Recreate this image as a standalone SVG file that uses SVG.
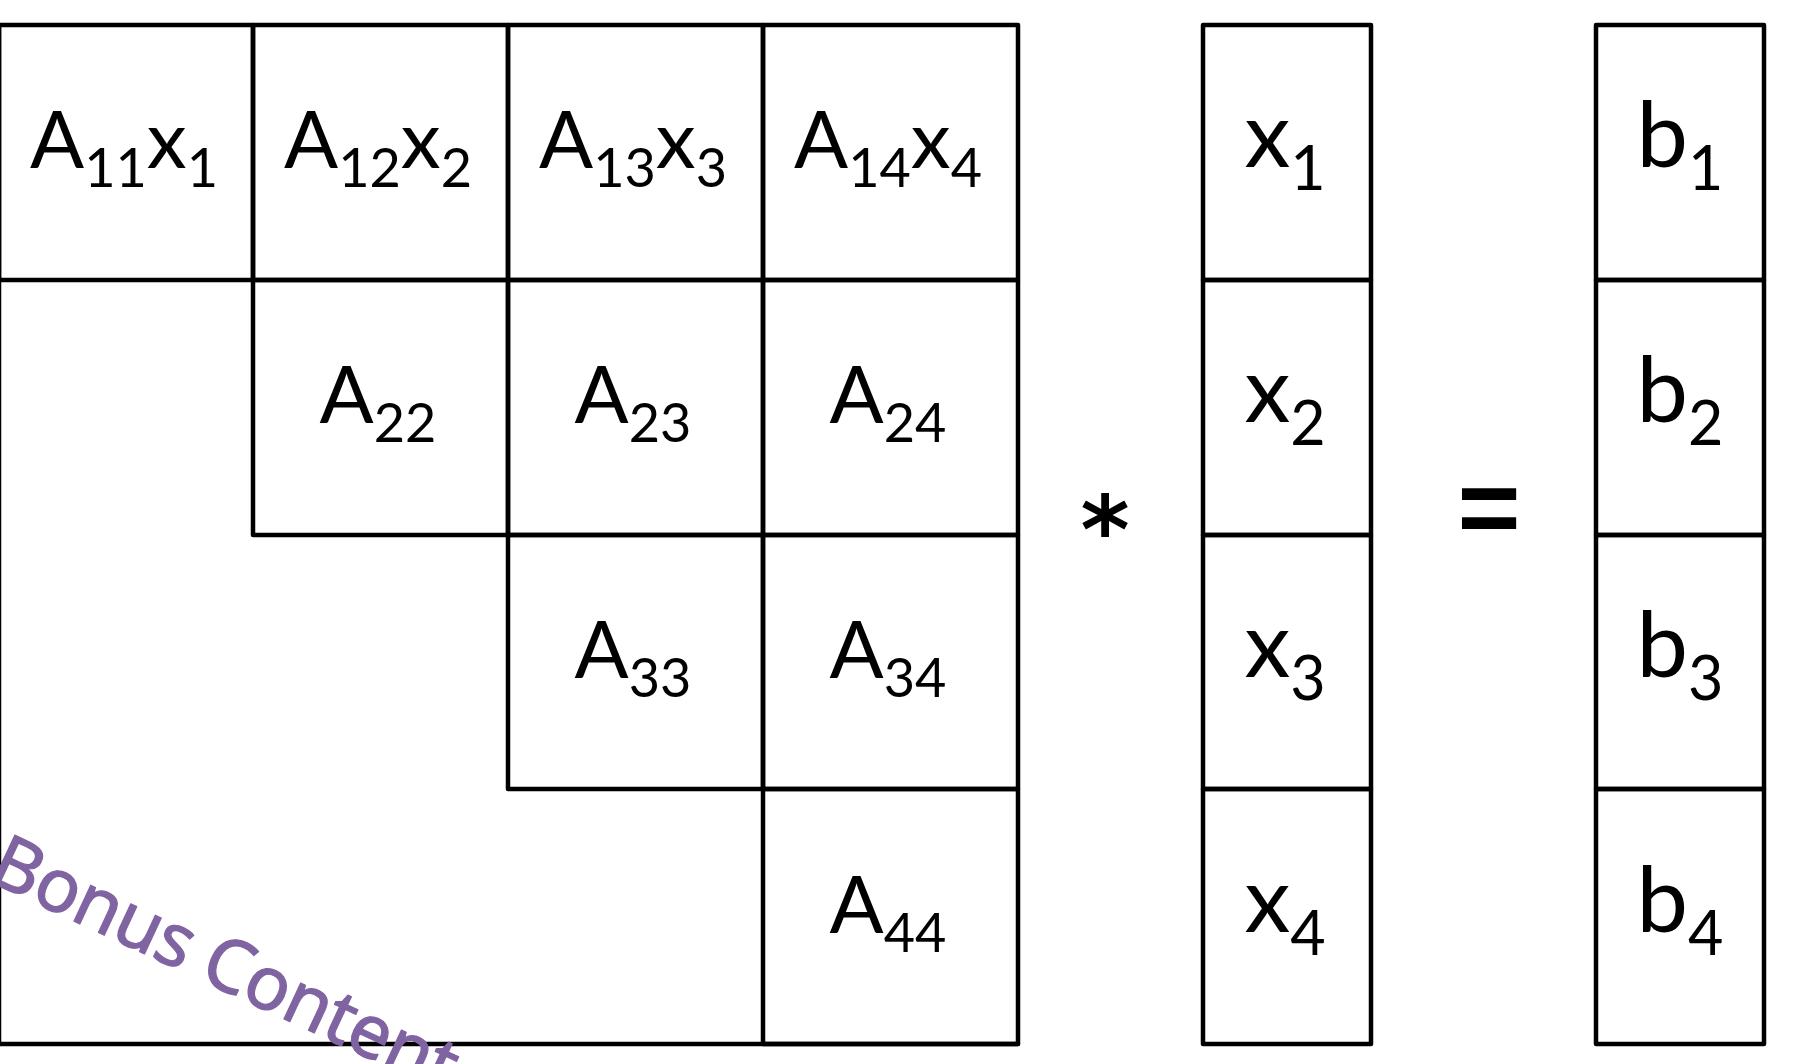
<svg xmlns="http://www.w3.org/2000/svg" width="1820" height="1064" viewBox="0 0 1820 1064">
<style>
  .cell { fill: none; stroke: #000; stroke-width: 4.5; stroke-linejoin: round; }
  .frame { fill: none; stroke: #000; stroke-width: 4.5; stroke-linejoin: round; stroke-linecap: round; }
  .lbl { font-family: Lato, "Open Sans", sans-serif; font-size: 80px; fill: #000; text-anchor: middle; }
  .lbl .sub { font-size: 54px; }
  .vec { font-family: Lato, "Open Sans", sans-serif; font-size: 92px; fill: #000; text-anchor: middle; }
  .vec .sub { font-size: 61px; }
  .op { font-family: "DejaVu Sans", sans-serif; font-weight: bold; fill: #000; text-anchor: middle; }
  .bonus { font-family: "Noto Sans", "DejaVu Sans", sans-serif; font-size: 74px; fill: #8064A2; stroke: #8064A2; stroke-width: 1.2; stroke-linejoin: round; }
</style>
<rect width="1820" height="1064" fill="#fff"/>

<g id="matrix-frame">
  <path class="frame" d="M-1,25 V1044 H1018"/>
</g>

<g id="A11"><rect class="cell" x="-1" y="25" width="254" height="255"/>
  <text class="lbl" x="124" y="168">A<tspan class="sub" dy="19">11</tspan><tspan dy="-19">x</tspan><tspan class="sub" dy="19">1</tspan></text></g>
<g id="A12"><rect class="cell" x="253" y="25" width="255" height="255"/>
  <text class="lbl" x="378" y="168">A<tspan class="sub" dy="19">12</tspan><tspan dy="-19">x</tspan><tspan class="sub" dy="19">2</tspan></text></g>
<g id="A13"><rect class="cell" x="508" y="25" width="255" height="255"/>
  <text class="lbl" x="633" y="168">A<tspan class="sub" dy="19">13</tspan><tspan dy="-19">x</tspan><tspan class="sub" dy="19">3</tspan></text></g>
<g id="A14"><rect class="cell" x="763" y="25" width="255" height="255"/>
  <text class="lbl" x="888" y="168">A<tspan class="sub" dy="19">14</tspan><tspan dy="-19">x</tspan><tspan class="sub" dy="19">4</tspan></text></g>

<g id="A22"><rect class="cell" x="253" y="280" width="255" height="255"/>
  <text class="lbl" x="378" y="423">A<tspan class="sub" dy="19">22</tspan></text></g>
<g id="A23"><rect class="cell" x="508" y="280" width="255" height="255"/>
  <text class="lbl" x="633" y="423">A<tspan class="sub" dy="19">23</tspan></text></g>
<g id="A24"><rect class="cell" x="763" y="280" width="255" height="255"/>
  <text class="lbl" x="888" y="423">A<tspan class="sub" dy="19">24</tspan></text></g>

<g id="A33"><rect class="cell" x="508" y="535" width="255" height="254"/>
  <text class="lbl" x="633" y="678">A<tspan class="sub" dy="19">33</tspan></text></g>
<g id="A34"><rect class="cell" x="763" y="535" width="255" height="254"/>
  <text class="lbl" x="888" y="678">A<tspan class="sub" dy="19">34</tspan></text></g>

<g id="A44"><rect class="cell" x="763" y="789" width="255" height="255"/>
  <text class="lbl" x="888" y="933">A<tspan class="sub" dy="19">44</tspan></text></g>

<g id="op-multiply"><text class="op" x="1105" y="563" font-size="94">*</text></g>

<g id="x1"><rect class="cell" x="1203" y="25" width="168" height="255"/>
  <text class="vec" x="1285" y="167">x<tspan class="sub" dy="23">1</tspan></text></g>
<g id="x2"><rect class="cell" x="1203" y="280" width="168" height="255"/>
  <text class="vec" x="1285" y="422">x<tspan class="sub" dy="23">2</tspan></text></g>
<g id="x3"><rect class="cell" x="1203" y="535" width="168" height="254"/>
  <text class="vec" x="1285" y="677">x<tspan class="sub" dy="23">3</tspan></text></g>
<g id="x4"><rect class="cell" x="1203" y="789" width="168" height="255"/>
  <text class="vec" x="1285" y="932">x<tspan class="sub" dy="23">4</tspan></text></g>

<g id="op-equals"><text class="op" x="1489" y="544" font-size="108" style="font-family:'Liberation Sans',sans-serif">=</text></g>

<g id="b1"><rect class="cell" x="1596" y="25" width="168" height="255"/>
  <text class="vec" x="1680" y="167">b<tspan class="sub" dy="23">1</tspan></text></g>
<g id="b2"><rect class="cell" x="1596" y="280" width="168" height="255"/>
  <text class="vec" x="1680" y="422">b<tspan class="sub" dy="23">2</tspan></text></g>
<g id="b3"><rect class="cell" x="1596" y="535" width="168" height="254"/>
  <text class="vec" x="1680" y="677">b<tspan class="sub" dy="23">3</tspan></text></g>
<g id="b4"><rect class="cell" x="1596" y="789" width="168" height="255"/>
  <text class="vec" x="1680" y="932">b<tspan class="sub" dy="23">4</tspan></text></g>

<g id="bonus-label">
  <text class="bonus" transform="translate(-14,880) rotate(25)" x="0" y="0" textLength="505" lengthAdjust="spacing">Bonus Content</text>
</g>
</svg>
